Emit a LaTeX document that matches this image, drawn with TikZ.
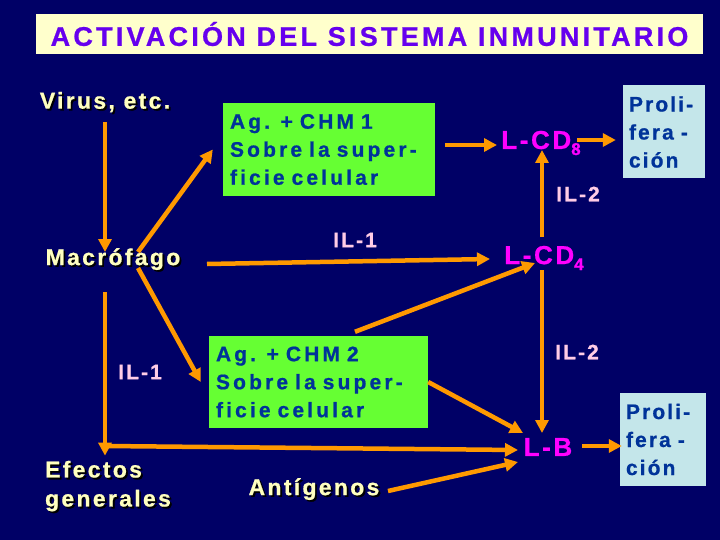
\documentclass[tikz,border=0pt]{standalone}
\usepackage{fontspec}
\setmainfont{Liberation Sans}[LetterSpace=10, BoldFeatures={FakeBold=0.8}]
\newfontfamily\widefont{Liberation Sans}[LetterSpace=15, BoldFeatures={FakeBold=0.8}]
\newfontfamily\titlefont{Liberation Sans}[LetterSpace=12, BoldFeatures={FakeBold=0.8}]
\usetikzlibrary{arrows.meta,calc}
\definecolor{bgnavy}{HTML}{000066}
\definecolor{arrorange}{HTML}{FF9900}
\definecolor{ylw}{HTML}{FFFFC0}
\definecolor{grn}{HTML}{66FF33}
\definecolor{dblue}{HTML}{003399}
\definecolor{lblue}{HTML}{C4E6EA}
\definecolor{pinkt}{HTML}{FFCCE6}
\definecolor{mag}{HTML}{FF00FF}
\definecolor{violett}{HTML}{6600EE}
\definecolor{cream}{HTML}{FFFFCC}
\newcommand\shadowed[1]{\makebox[0pt][l]{\hspace{1.8pt}\raisebox{-1.8pt}{\color{black}#1}}#1}
\tikzset{
  lbl/.style={text=ylw, inner sep=0pt, font=\bfseries\fontsize{23}{29}\selectfont},
  ilbl/.style={text=pinkt, inner sep=0pt, font=\bfseries\fontsize{21}{24}\selectfont},
  cdlbl/.style={text=mag, inner sep=0pt, font=\bfseries\fontsize{26}{30}\selectfont},
  greenbox/.style={fill=grn, text=dblue, inner xsep=7pt, inner ysep=0pt, align=left,
     font=\widefont\bfseries\fontsize{21}{28}\selectfont},
  prolbox/.style={fill=lblue, text=dblue, inner sep=0pt, align=left,
     font=\bfseries\fontsize{21}{28}\selectfont, minimum height=93pt},
  arr/.style={draw=arrorange, line width=4.5pt, -{Triangle[length=13pt,width=13pt]}},
  plainln/.style={draw=arrorange, line width=4.5pt},
}
\begin{document}
\begin{tikzpicture}[x=1pt,y=-1pt]
\fill[bgnavy] (0,0) rectangle (720,540);
\useasboundingbox (0,0) rectangle (720,540);
% title
\node[fill=cream, text=violett, minimum width=667pt, minimum height=40pt, inner sep=0pt,
  font=\titlefont\bfseries\fontsize{27}{30}\selectfont] (title) at (369.5,34) {ACTIVACIÓN DEL SISTEMA INMUNITARIO\hspace{12pt}};
% labels
\node[lbl] (virus) at (105,103) {\shadowed{Virus, etc.}};
\node[lbl] (macro) at (113,260) {\shadowed{Macrófago}};
\node[lbl, align=left] (efectos) at (108,487) {\shadowed{Efectos}\\\shadowed{generales}};
\node[lbl] (antig) at (314,490) {\shadowed{Antígenos}};
\node[ilbl] (ilone) at (140,372) {IL-1};
\node[ilbl] (iltop) at (355,240) {IL-1};
\node[ilbl] (iltwoa) at (578,194) {IL-2};
\node[ilbl] (iltwob) at (577,352) {IL-2};
% boxes
\node[greenbox, text width=198pt, minimum height=93pt] (box1) at (329,149.5)
  {Ag. + CHM 1\\Sobre la super-\\ficie celular};
\node[greenbox, text width=205pt, minimum height=92pt] (box2) at (318.5,382)
  {Ag. + CHM 2\\Sobre la super-\\ficie celular};
\node[prolbox, minimum width=82pt, text width=70pt] (prol1) at (664,132) {Proli-\\fera -\\ción};
\node[prolbox, minimum width=86pt, text width=74pt] (prol2) at (663,439.5) {Proli-\\fera -\\ción};
% cell labels
\node[cdlbl] (lcd8) at (541,143) {L-CD\raisebox{-6pt}{\fontsize{17}{18}\selectfont 8}};
\node[cdlbl] (lcd4) at (544,258) {L-CD\raisebox{-6pt}{\fontsize{17}{18}\selectfont 4}};
\node[cdlbl] (lb) at (548,447) {L-B};
% connectors
\draw[arr] ($(virus)+(0,19)$) -- ($(macro)+(-8,-8)$);
\draw[arr] ($(macro)+(25,-8)$) -- ($(box1.west)+(-10,0)$);
\draw[arr] ($(macro)+(25,8)$) -- ($(box2.west)+(-8,0)$);
\draw[arr] ($(macro)+(94,4)$) -- ($(lcd4)+(-54,1)$);
\coordinate (corner) at ($(macro)+(-8,186)$);
\draw[plainln] ($(macro)+(-8,32)$) -- (corner);
\draw[arr] (corner) -- ($(efectos.north)+(-3,-5)$);
\draw[arr, shorten <=-2.2pt] (corner) -- ($(lb)+(-30,3)$);
\draw[arr] ($(box1.east)+(10,-4.5)$) -- ($(lcd8)+(-44,2)$);
\draw[arr] ($(lcd8)+(36,-3)$) -- ($(prol1.west)+(-7,8)$);
\draw[arr] ($(lcd4)+(-2,-21)$) -- ($(lcd8)+(1,7)$);
\draw[arr] ($(lcd4)+(-2,12)$) -- ($(lb)+(-6,-14)$);
\draw[arr] ($(box2.north)+(36.5,-4)$) -- ($(lcd4)+(-9,5)$);
\draw[arr] ($(box2.east)+(0,0)$) -- ($(lb)+(-25,-14)$);
\draw[arr] ($(antig)+(74,1)$) -- ($(lb)+(-30,15)$);
\draw[arr] ($(lb)+(34,-1)$) -- ($(prol2.west)+(2,6.5)$);
\end{tikzpicture}
\end{document}
